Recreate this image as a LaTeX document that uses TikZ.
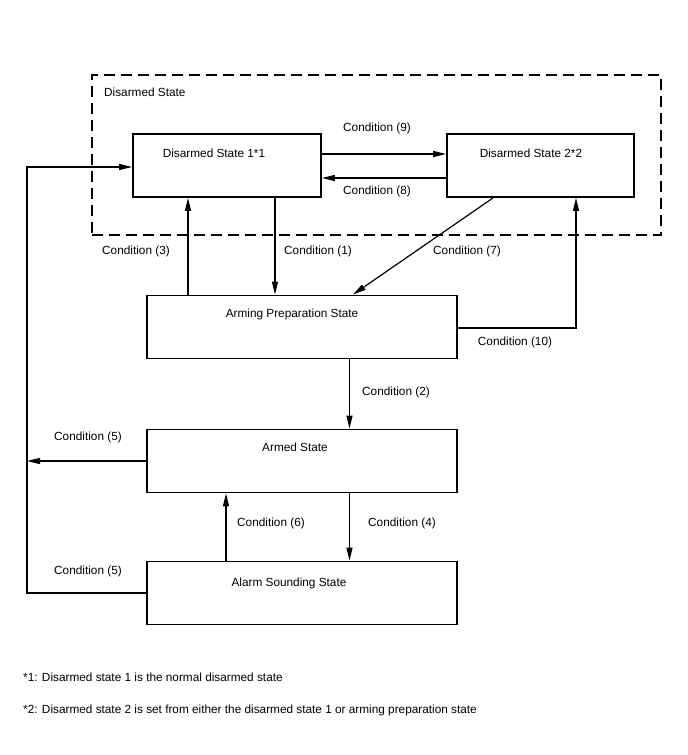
\documentclass[tikz,border=0pt]{standalone}
\usepackage{fontspec}
\setmainfont{Liberation Sans}
\usetikzlibrary{arrows.meta}

\begin{document}
\begin{tikzpicture}[x=1pt, y=-1pt,
  font=\fontsize{11.8}{14}\selectfont,
  state/.style={draw, line width=1.9pt, inner sep=0pt, minimum height=63pt},
  group/.style={draw, line width=1.8pt, dash pattern=on 11pt off 6pt, inner sep=0pt, minimum width=569pt, minimum height=160pt},
  flow/.style={-{Triangle[length=13pt, width=6pt]}, line width=1.2pt},
  cond/.style={text height=8.5pt, text depth=0pt, inner sep=0pt},
  note/.style={cond, anchor=west}
]
  \useasboundingbox (0,0) rectangle (688,755);

  \node[group] (disarmed) at (376.5,155) {};
  \node[note] (disarmedlbl) at (104,92) {Disarmed State};

  \node[state, minimum width=188pt] (ds1) at (227,165.5) {};
  \node[cond] (ds1lbl) at (214,153) {Disarmed State 1*1};
  \node[state, minimum width=187pt] (ds2) at (540.5,165.5) {};
  \node[cond] (ds2lbl) at (531,153) {Disarmed State 2*2};
  \node[state, minimum width=310pt] (aps) at (302,327) {};
  \node[cond] (apslbl) at (292,313) {Arming Preparation State};
  \node[state, minimum width=310pt] (armed) at (302,461) {};
  \node[cond] (armedlbl) at (295,447) {Armed State};
  \node[state, minimum width=310pt] (alarm) at (302,593) {};
  \node[cond] (alarmlbl) at (289,582) {Alarm Sounding State};
  \coordinate (rail) at (27,461);

  \draw[flow] ([yshift=11.5pt]ds1.east) -- ([yshift=11.5pt]ds2.west);
  \node[cond] (c9) at (377,127) {Condition (9)};
  \draw[flow] ([yshift=-12.5pt]ds2.west) -- ([yshift=-12.5pt]ds1.east);
  \node[cond] (c8) at (377,190) {Condition (8)};

  \draw[flow] ([xshift=-39pt]ds1.south |- aps.north) -- ([xshift=-39pt]ds1.south);
  \node[cond] (c3) at (136,250) {Condition (3)};
  \draw[flow] ([xshift=48pt]ds1.south) -- ([xshift=48pt]ds1.south |- aps.north);
  \node[cond] (c1) at (318,250) {Condition (1)};
  \draw[flow] ([xshift=-47.5pt]ds2.south) -- ([xshift=51pt]aps.north);
  \node[cond] (c7) at (467,250) {Condition (7)};
  \draw[flow] ([yshift=-1pt]aps.east) -| ([xshift=35.5pt]ds2.south);
  \node[cond] (c10) at (515,341) {Condition (10)};

  \draw[flow] ([xshift=47.5pt]aps.south) -- ([xshift=47.5pt]armed.north);
  \node[cond] (c2) at (396,391) {Condition (2)};
  \draw[flow] (armed.west) -- (rail);
  \node[cond] (c5a) at (88,436) {Condition (5)};
  \draw[flow] ([xshift=-76pt]alarm.north) -- ([xshift=-76pt]armed.south);
  \node[cond] (c6) at (271,522) {Condition (6)};
  \draw[flow] ([xshift=47.5pt]armed.south) -- ([xshift=47.5pt]alarm.north);
  \node[cond] (c4) at (402,522) {Condition (4)};
  \draw[flow] (alarm.west) -| (rail) |- ([yshift=-1.5pt]ds1.west);
  \node[cond] (c5b) at (88,570) {Condition (5)};

  \node[note] (fn1) at (23,677) {*1: Disarmed state 1 is the normal disarmed state};
  \node[note] (fn2) at (23,709) {*2: Disarmed state 2 is set from either the disarmed state 1 or arming preparation state};
\end{tikzpicture}
\end{document}
